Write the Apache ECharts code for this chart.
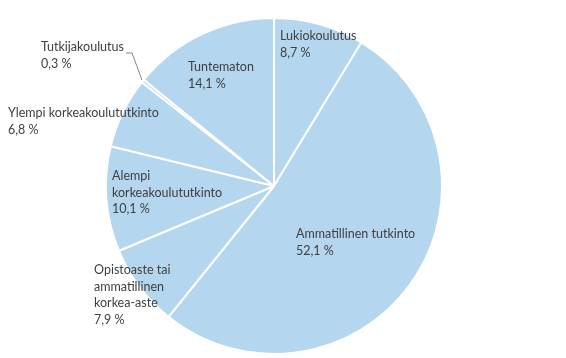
<!DOCTYPE html>
<html>
<head>
<meta charset="utf-8">
<script src="https://cdn.jsdelivr.net/npm/echarts@6/dist/echarts.min.js"></script>
<style>
html,body{margin:0;padding:0;background:#fff;}
#c{width:566px;height:358px;}
</style>
</head>
<body>
<div id="c"></div>
<script>
// Data
var categories = [
  "Lukiokoulutus",
  "Ammatillinen tutkinto",
  "Opistoaste tai\nammatillinen\nkorkea-aste",
  "Alempi\nkorkeakoulututkinto",
  "Ylempi korkeakoulututkinto",
  "Tutkijakoulutus",
  "Tuntematon"
];
var values = [8.7, 52.1, 7.9, 10.1, 6.8, 0.3, 14.1];

// Label placement (top-left of each label block), styling only
var labelPos = [
  [280, 28], [296, 226], [94, 262], [112, 168], [8, 105], [41, 39], [188, 59]
];

var chart = echarts.init(document.getElementById('c'), null, {renderer: 'canvas'});
var data = categories.map(function (n, i) {
  return {name: n, value: values[i], labelLine: {show: i === 5}};
});

chart.setOption({
  animation: false,
  backgroundColor: '#ffffff',
  series: [{
    type: 'pie',
    center: [274, 186],
    radius: [0, 168],
    startAngle: 90,
    clockwise: true,
    data: data,
    color: ['#B4D6EE'],
    itemStyle: {color: '#B4D6EE', borderColor: '#ffffff', borderWidth: 2},
    emphasis: {disabled: true},
    label: {
      show: true,
      position: 'outside',
      color: '#404040',
      fontFamily: 'Lato',
      fontSize: 12.5,
      lineHeight: 16.5,
      align: 'left',
      overflow: 'none',
      width: 300,
      formatter: function (p) {
        return p.name + '\n' + String(p.value).replace('.', ',') + ' %';
      }
    },
    labelLine: {show: true, length: 5, length2: 5, lineStyle: {color: '#888888', width: 1}},
    labelLayout: function (params) {
      var i = params.dataIndex;
      var res = {x: labelPos[i][0], y: labelPos[i][1], align: 'left', verticalAlign: 'top'};
      if (i === 5) {
        res.labelLinePoints = [[142, 80], [132, 53], [126, 53]];
      }
      return res;
    }
  }]
});
</script>
</body>
</html>
